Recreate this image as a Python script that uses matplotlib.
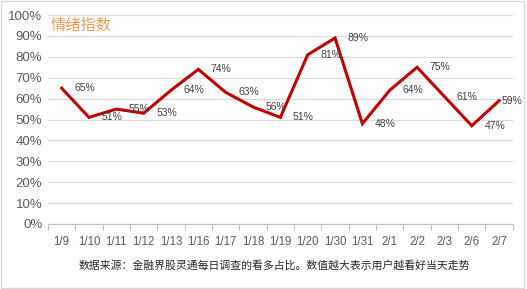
import matplotlib
matplotlib.use('Agg')
import matplotlib.pyplot as plt
from matplotlib.patches import Rectangle
from matplotlib.ticker import FixedLocator, PercentFormatter

# 数据
dates = ['1/9', '1/10', '1/11', '1/12', '1/13', '1/16', '1/17', '1/18', '1/19',
         '1/20', '1/30', '1/31', '2/1', '2/2', '2/3', '2/6', '2/7']
sentiment = [65, 51, 55, 53, 64, 74, 63, 56, 51, 81, 89, 48, 64, 75, 61, 47, 59]
title_text = '情绪指数'
source_text = '数据来源：金融界股灵通每日调查的看多占比。数值越大表示用户越看好当天走势'

plt.rcParams['font.family'] = ['Liberation Sans', 'Noto Sans CJK SC', 'DejaVu Sans']
plt.rcParams['axes.unicode_minus'] = False

fig = plt.figure(figsize=(5.27, 2.89), dpi=100)
ax = fig.add_axes([0.091, 0.225, 0.882, 0.723])

x = list(range(len(dates)))
ax.plot(x, sentiment, color='#C00000', linewidth=2.2, solid_joinstyle='miter')

# 数据标签放在点的右侧，最后一个贴近点以免越界
for xi, v in zip(x, sentiment):
    dx = 2 if xi == x[-1] else 9
    ax.annotate(f'{v}%', (xi, v), xytext=(dx, 0), textcoords='offset points',
                ha='left', va='center', fontsize=7.5, color='#404040')

ax.set_xlim(-0.5, len(dates) - 0.5)
ax.set_ylim(0, 100)
ax.set_yticks(range(0, 101, 10))
ax.yaxis.set_major_formatter(PercentFormatter(decimals=0))
ax.set_xticks(x)
ax.set_xticklabels(dates)
ax.xaxis.set_minor_locator(FixedLocator([i - 0.5 for i in range(len(dates) + 1)]))
ax.tick_params(axis='x', which='major', length=0, pad=9, labelsize=8.3, colors='#595959')
ax.tick_params(axis='x', which='minor', length=4, color='#BFBFBF', width=0.8)
ax.tick_params(axis='y', length=0, pad=4, labelsize=9.5, colors='#595959')

ax.grid(axis='y', color='#D9D9D9', linewidth=0.8)
ax.set_axisbelow(True)
for side in ('top', 'right', 'left'):
    ax.spines[side].set_visible(False)
ax.spines['bottom'].set_color('#BFBFBF')
ax.spines['bottom'].set_linewidth(0.8)

ax.text(0.005, 0.95, title_text, transform=ax.transAxes, ha='left', va='center',
        fontsize=11, color='#EC9A5A', family=['Noto Sans CJK SC'])

fig.text(0.52, 0.083, source_text, ha='center', va='center', fontsize=7.8,
         color='#262626', family=['Noto Sans CJK SC', 'DejaVu Sans'])

fig.patches.append(Rectangle((0.002, 0.003), 0.993, 0.994, transform=fig.transFigure,
                             fill=False, edgecolor='#D9D9D9', linewidth=1.0))

fig.savefig('out.png', dpi=100)
